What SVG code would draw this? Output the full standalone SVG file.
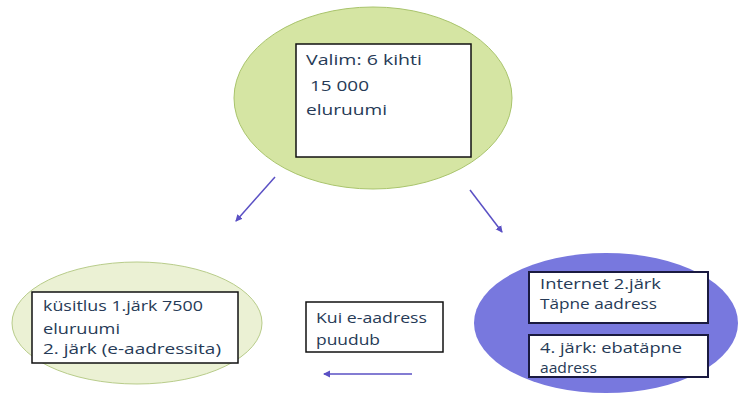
<svg xmlns="http://www.w3.org/2000/svg" width="742" height="397" viewBox="0 0 742 397">
<style>
.t{font-family:"Open Sans","DejaVu Sans",sans-serif;font-size:15px;fill:#263a56}
.box{fill:#fff;stroke:#111;stroke-width:1.5}
.box2{fill:#fff;stroke:#1a1a40;stroke-width:2}
.arr{stroke:#5a50c4;stroke-width:1.5;fill:none;marker-end:url(#ah)}
</style>
<defs>
<marker id="ah" markerWidth="8" markerHeight="8" refX="6" refY="4" orient="auto" markerUnits="userSpaceOnUse">
<path d="M0,0.5 L7,4 L0,7.5 z" fill="#5a50c4"/>
</marker>
</defs>
<rect width="742" height="397" fill="#fff"/>
<g id="top">
<ellipse cx="373" cy="98" rx="139" ry="91" fill="#d5e5a3" stroke="#a9c46c" stroke-width="1"/>
<rect class="box" x="296" y="44" width="175" height="113"/>
<text class="t" x="306" y="65" textLength="116" lengthAdjust="spacingAndGlyphs">Valim: 6 kihti</text>
<text class="t" x="310" y="91" textLength="59" lengthAdjust="spacingAndGlyphs">15 000</text>
<text class="t" x="306" y="115" textLength="81" lengthAdjust="spacingAndGlyphs">eluruumi</text>
</g>
<g id="left">
<ellipse cx="137" cy="323" rx="125" ry="61" fill="#ebf1d4" stroke="#b8cc8a" stroke-width="1"/>
<rect class="box" x="32" y="292" width="206" height="71"/>
<text class="t" x="43" y="311" textLength="160" lengthAdjust="spacingAndGlyphs">küsitlus 1.järk 7500</text>
<text class="t" x="43" y="334" textLength="77" lengthAdjust="spacingAndGlyphs">eluruumi</text>
<text class="t" x="43" y="354" textLength="178" lengthAdjust="spacingAndGlyphs">2. järk (e-aadressita)</text>
</g>
<g id="middle">
<rect class="box" x="306" y="302" width="137" height="50"/>
<text class="t" x="316" y="323" textLength="111" lengthAdjust="spacingAndGlyphs">Kui e-aadress</text>
<text class="t" x="316" y="345" textLength="64" lengthAdjust="spacingAndGlyphs">puudub</text>
</g>
<g id="right">
<ellipse cx="606" cy="323" rx="132" ry="70" fill="#7878de"/>
<rect class="box2" x="529" y="272" width="179" height="51"/>
<text class="t" x="540" y="289" textLength="121" lengthAdjust="spacingAndGlyphs">Internet 2.järk</text>
<text class="t" x="540" y="309" textLength="117" lengthAdjust="spacingAndGlyphs">Täpne aadress</text>
<rect class="box2" x="529" y="335" width="179" height="42"/>
<text class="t" x="540" y="353" textLength="142" lengthAdjust="spacingAndGlyphs">4. järk: ebatäpne</text>
<text class="t" x="540" y="373" textLength="57" lengthAdjust="spacingAndGlyphs">aadress</text>
</g>
<g id="connectors">
<line class="arr" x1="275" y1="177" x2="236" y2="221"/>
<line class="arr" x1="470" y1="190" x2="502" y2="232"/>
<line class="arr" x1="412" y1="374" x2="324" y2="374"/>
</g>
</svg>
